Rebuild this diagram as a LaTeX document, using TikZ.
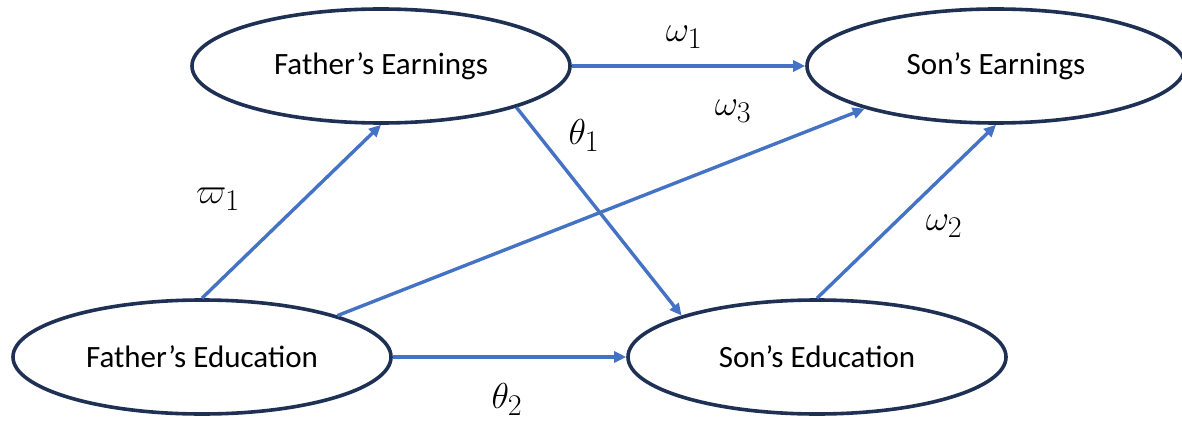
\documentclass[tikz,border=0pt]{standalone}
\usepackage{fontspec}
\setmainfont{Carlito}
\usetikzlibrary{shapes.geometric,arrows.meta}
\definecolor{famnavy}{HTML}{1F3055}
\definecolor{famblue}{HTML}{4472C4}
\newcommand{\fammath}[1]{\scalebox{1.45}{$#1$}}
\tikzset{famvar/.style={ellipse,draw=famnavy,line width=3.6pt,fill=white,inner sep=0pt,
           minimum width=378pt,minimum height=114pt,font=\fontsize{31}{36}\selectfont},
         famarr/.style={draw=famblue,line width=3.4pt,-{Triangle[length=12pt,width=11pt]}},
         famlab/.style={font=\Huge}}
\begin{document}
\begin{tikzpicture}[x=1pt,y=-1pt]
    \useasboundingbox (0,0) rectangle (1182,422);
    \foreach \x/\y/\n/\l in {381/66/fe/Father’s Earnings,996/66/se/Son’s Earnings,
        202/357/fed/Father’s Education,817/357/sed/Son’s Education}
      {\node[famvar] (\n) at (\x,\y) {\l};}
    \draw[famarr] (fe.east) -- (se.west);
    \draw[famarr] (fed.north) -- (fe.south);
    \draw[famarr] (fed.17) -- (se.198);
    \draw[famarr] (fe.-17) -- (sed.163);
    \draw[famarr] (fed.east) -- (sed.west);
    \draw[famarr] (sed.north) -- (se.south);
    \node[famlab] (w1) at (684,37) {\fammath{\omega_1}};
    \node[famlab] (w3) at (733,111) {\fammath{\omega_3}};
    \node[famlab] (t1) at (584,135) {\fammath{\theta_1}};
    \node[famlab] (p1) at (218,199) {\fammath{\varpi_1}};
    \node[famlab] (w2) at (944,226) {\fammath{\omega_2}};
    \node[famlab] (t2) at (507,399) {\fammath{\theta_2}};
  \end{tikzpicture}
\end{document}
